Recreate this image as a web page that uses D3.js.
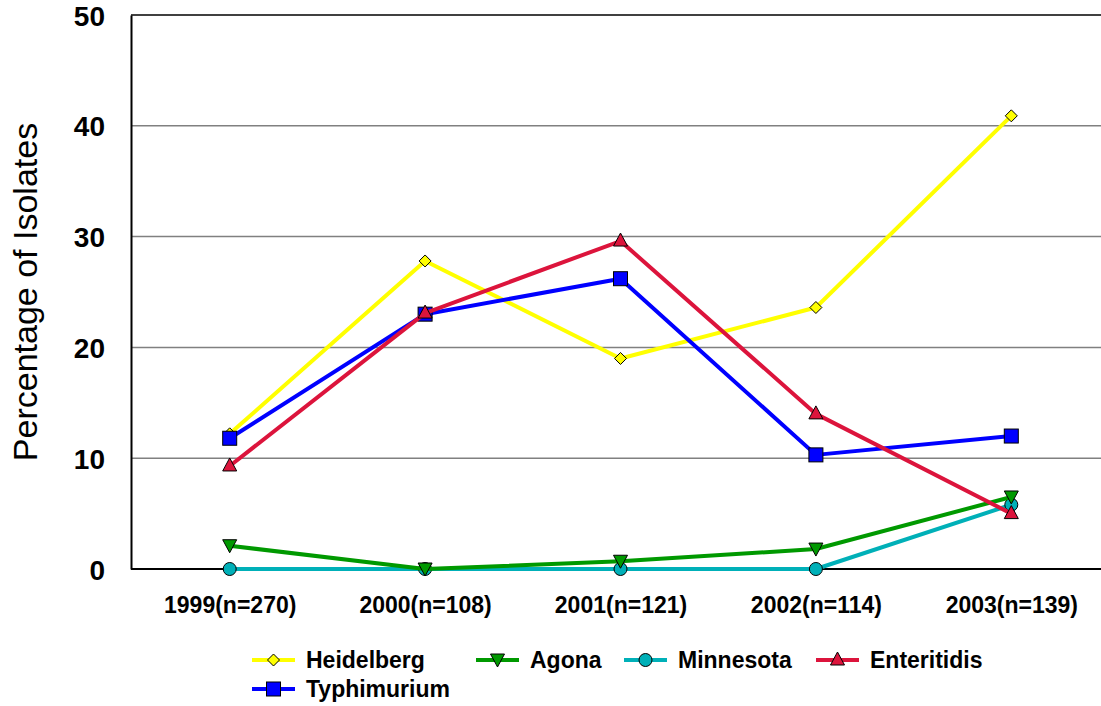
<!DOCTYPE html>
<html>
<head>
<meta charset="utf-8">
<script src="https://cdn.jsdelivr.net/npm/d3@7"></script>
<style>
  html, body { margin: 0; padding: 0; background: #fff; }
  svg { display: block; font-family: "Liberation Sans", Arial, sans-serif; }
</style>
</head>
<body>
<svg id="chart" width="1101" height="706"></svg>
<script>
// Survey years with isolate counts
const categories = ["1999(n=270)", "2000(n=108)", "2001(n=121)", "2002(n=114)", "2003(n=139)"];

// Percentage of isolates per serotype
const heidelberg  = [12.2, 27.8, 19.0, 23.6, 40.9];
const agona       = [2.1, 0.0, 0.7, 1.8, 6.5];
const minnesota   = [0.0, 0.0, 0.0, 0.0, 5.8];
const enteritidis = [9.3, 23.1, 29.6, 14.0, 5.0];
const typhimurium = [11.8, 23.0, 26.2, 10.3, 12.0];

const yTicks = [0, 10, 20, 30, 40, 50];

const series = [
  { name: "Heidelberg",  values: heidelberg,  color: "#ffff00", marker: "diamond" },
  { name: "Agona",       values: agona,       color: "#009900", marker: "triDown" },
  { name: "Minnesota",   values: minnesota,   color: "#00b0b8", marker: "circle" },
  { name: "Enteritidis", values: enteritidis, color: "#dc143c", marker: "triUp" },
  { name: "Typhimurium", values: typhimurium, color: "#0000ff", marker: "square" }
];
// draw order: later series on top
const drawOrder = ["Heidelberg", "Minnesota", "Agona", "Typhimurium", "Enteritidis"];

const svg = d3.select("#chart");
const plotLeft = 131, plotTop = 15, plotBottom = 569, plotRight = 1101;

const x = d3.scalePoint().domain(categories).range([132, 1109]).padding(0.5);
const y = d3.scaleLinear().domain([0, 50]).range([plotBottom, plotTop]);

// horizontal gridlines
svg.append("g")
  .selectAll("line")
  .data(yTicks.filter(t => t > 0 && t < 50))
  .join("line")
  .attr("x1", plotLeft).attr("x2", plotRight)
  .attr("y1", d => y(d)).attr("y2", d => y(d))
  .attr("stroke", "#808080").attr("stroke-width", 1.5);

// top frame line
svg.append("line")
  .attr("x1", plotLeft).attr("x2", plotRight)
  .attr("y1", y(50)).attr("y2", y(50))
  .attr("stroke", "#000").attr("stroke-width", 1.5);

// y axis
const yAxis = d3.axisLeft(y).tickValues(yTicks).tickSize(0).tickPadding(26);
const gy = svg.append("g").attr("transform", `translate(${plotLeft},0)`).call(yAxis);
gy.select(".domain").attr("stroke", "#000").attr("stroke-width", 2);
gy.selectAll("text")
  .attr("font-family", "Liberation Sans, Arial, sans-serif")
  .attr("font-size", 28).attr("font-weight", "bold").attr("fill", "#000")
  .attr("dy", "0.36em");

// x axis
const xAxis = d3.axisBottom(x).tickSize(0).tickPadding(28);
const gx = svg.append("g").attr("transform", `translate(0,${plotBottom})`).call(xAxis);
gx.select(".domain").remove();
gx.append("line").attr("x1", plotLeft).attr("x2", plotRight).attr("y1", 0).attr("y2", 0)
  .attr("stroke", "#000").attr("stroke-width", 2);
gx.selectAll("text")
  .attr("font-family", "Liberation Sans, Arial, sans-serif")
  .attr("font-size", 23).attr("font-weight", "bold").attr("fill", "#000");

// y axis title
svg.append("text")
  .attr("transform", `translate(37,${(plotTop + plotBottom) / 2}) rotate(-90)`)
  .attr("text-anchor", "middle")
  .attr("font-size", 34).attr("fill", "#000")
  .text("Percentage of Isolates");

function drawMarker(g, type, color) {
  let m;
  if (type === "diamond") {
    m = g.append("path").attr("d", "M0,-6L6,0L0,6L-6,0Z");
  } else if (type === "square") {
    m = g.append("rect").attr("x", -7).attr("y", -7).attr("width", 14).attr("height", 14);
  } else if (type === "triUp") {
    m = g.append("path").attr("d", "M0,-8L7,5L-7,5Z");
  } else if (type === "triDown") {
    m = g.append("path").attr("d", "M0,7L7,-6L-7,-6Z");
  } else {
    m = g.append("circle").attr("r", 6.5);
  }
  m.attr("fill", color).attr("stroke", "#000").attr("stroke-width", 1);
}

const line = d3.line().x((d, i) => x(categories[i])).y(d => y(d));

const plot = svg.append("g");
drawOrder.forEach(name => {
  const s = series.find(d => d.name === name);
  const g = plot.append("g");
  g.append("path").datum(s.values)
    .attr("d", line).attr("fill", "none")
    .attr("stroke", s.color).attr("stroke-width", 4)
    .attr("stroke-linejoin", "round");
  s.values.forEach((v, i) => {
    const mg = g.append("g").attr("transform", `translate(${x(categories[i])},${y(v)})`);
    drawMarker(mg, s.marker, s.color);
  });
});

// legend
const legendItems = [
  { name: "Heidelberg",  lx: 252, ly: 660 },
  { name: "Agona",       lx: 476, ly: 660 },
  { name: "Minnesota",   lx: 624, ly: 660 },
  { name: "Enteritidis", lx: 816, ly: 660 },
  { name: "Typhimurium", lx: 252, ly: 689 }
];
const legend = svg.append("g");
legendItems.forEach(it => {
  const s = series.find(d => d.name === it.name);
  const g = legend.append("g").attr("transform", `translate(${it.lx},${it.ly})`);
  g.append("line").attr("x1", 0).attr("x2", 43).attr("y1", 0).attr("y2", 0)
    .attr("stroke", s.color).attr("stroke-width", 4);
  const mg = g.append("g").attr("transform", "translate(21.5,0)");
  drawMarker(mg, s.marker, s.color);
  g.append("text").attr("x", 54).attr("y", 0).attr("dy", "0.36em")
    .attr("font-size", 23).attr("font-weight", "bold").attr("fill", "#000")
    .text(s.name);
});
</script>
</body>
</html>
